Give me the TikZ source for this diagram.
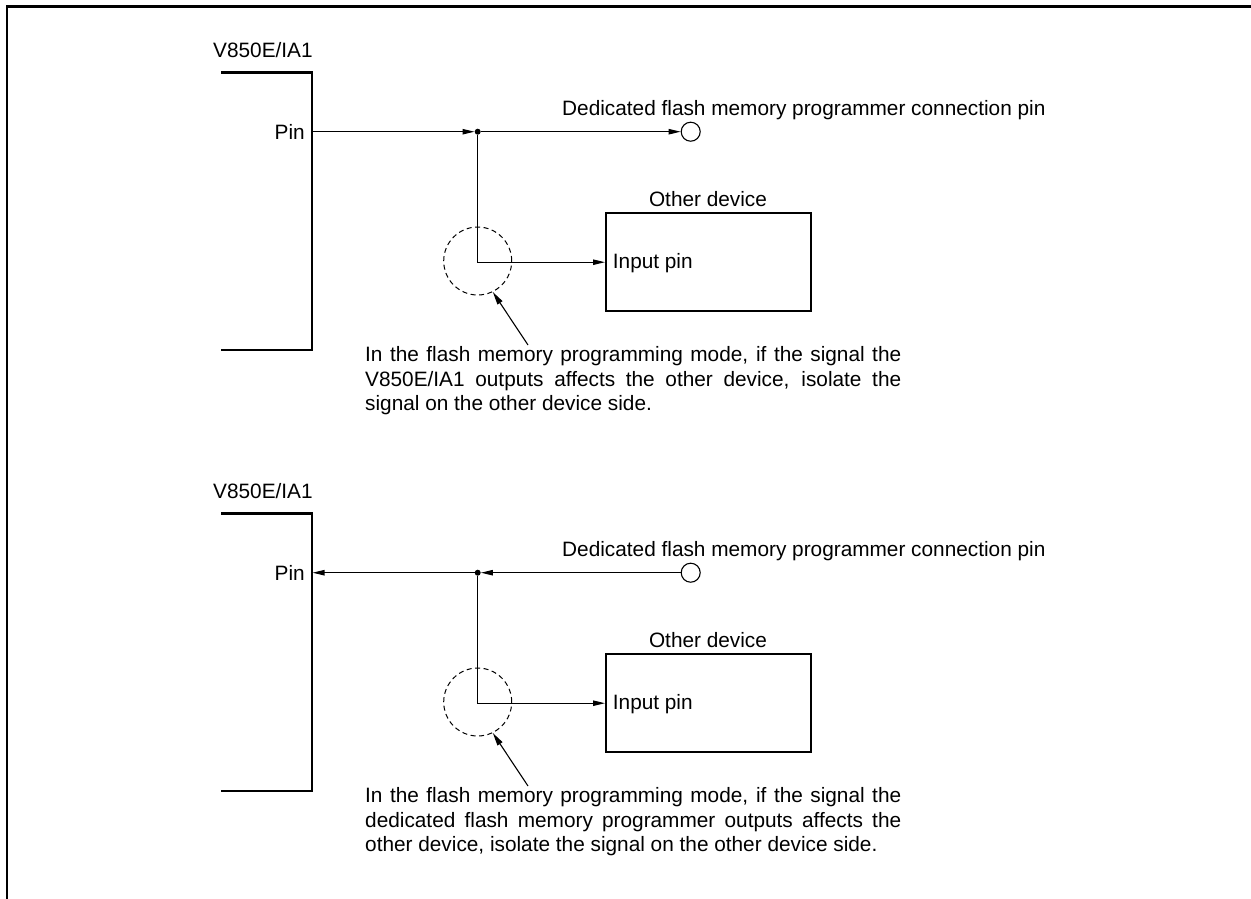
\documentclass[tikz,border=0pt]{standalone}
\usepackage{fontspec}
\setmainfont{Liberation Sans}
\usetikzlibrary{arrows.meta,calc}
\tikzset{
  sig/.style={line width=1.1pt},
  thick line/.style={line width=2.4pt},
  arr/.style={-{Triangle[length=12pt,width=5.4pt]}},
  parr/.style={-{Triangle[length=13pt,width=5.8pt]}},
  lbl/.style={inner sep=0pt, font=\fontsize{20.8}{24.8}\selectfont},
  note/.style={lbl, anchor=north west, text width=536pt, align=justify},
  term/.style={circle, draw, line width=1.1pt, minimum size=19pt, inner sep=0pt},
  iso/.style={circle, draw, line width=1pt, dash pattern=on 5pt off 3.5pt, minimum size=68pt, inner sep=0pt},
  devbox/.style={draw, thick line, minimum width=205pt, minimum height=98pt, inner sep=0pt, anchor=north west},
  jdot/.style={circle, fill, minimum size=6pt, inner sep=0pt}
}
\begin{document}
\begin{tikzpicture}[x=1pt,y=-1pt]
\useasboundingbox (0,0) rectangle (1251,898);
% frame
\draw[line width=2.5pt] (7,900) -- (7,6.5) -- (1253,6.5);

% ---------- upper diagram ----------
\node[lbl, anchor=base west] (chipA) at (213,57) {V850E/IA1};
\draw[thick line] (221,72.5) -- (312,72.5) -- (312,350) -- (221,350);
\node[lbl, anchor=base east] (pinA) at (305,139) {Pin};
\coordinate (pA) at (312.5,131.7);
\node[jdot] (jA) at (477.7,131.7) {};
\node[term] (cA) at (690.7,131.7) {};
\node[lbl, anchor=base west] (dedA) at (562,115) {Dedicated flash memory programmer connection pin};
\draw[sig, arr] (pA) -- (jA.west);
\draw[sig, arr] (jA) -- (cA.west);
\node[devbox] (bA) at (605,212) {};
\node[lbl, anchor=base] (othA) at (708,206) {Other device};
\node[lbl, anchor=base west] (inA) at (612.7,268) {Input pin};
\draw[sig, arr] (jA) |- (bA.west);
\node[iso] (dA) at (477.7,261) {};
\coordinate (tA) at (528,345);
\draw[sig, parr] (tA) -- (dA.-64);
\node[note] (nA) at (365,346) {In the flash memory programming mode, if the signal the\linebreak V850E/IA1 outputs affects the other device, isolate the\linebreak signal on the other device side.};

% ---------- lower diagram ----------
\node[lbl, anchor=base west] (chipB) at (213,498) {V850E/IA1};
\draw[thick line] (221,513.5) -- (312,513.5) -- (312,791) -- (221,791);
\node[lbl, anchor=base east] (pinB) at (305,580) {Pin};
\coordinate (pB) at (312.5,572.7);
\node[jdot] (jB) at (477.7,572.7) {};
\node[term] (cB) at (690.7,572.7) {};
\node[lbl, anchor=base west] (dedB) at (562,556) {Dedicated flash memory programmer connection pin};
\draw[sig, arr] (cB.west) -- (jB.east);
\draw[sig, arr] (jB) -- (pB);
\node[devbox] (bB) at (605,653) {};
\node[lbl, anchor=base] (othB) at (708,647) {Other device};
\node[lbl, anchor=base west] (inB) at (612.7,709) {Input pin};
\draw[sig, arr] (jB) |- (bB.west);
\node[iso] (dB) at (477.7,702) {};
\coordinate (tB) at (528,786);
\draw[sig, parr] (tB) -- (dB.-64);
\node[note] (nB) at (365,787) {In the flash memory programming mode, if the signal the\linebreak dedicated flash memory programmer outputs affects the\linebreak other device, isolate the signal on the other device side.};
\end{tikzpicture}
\end{document}
